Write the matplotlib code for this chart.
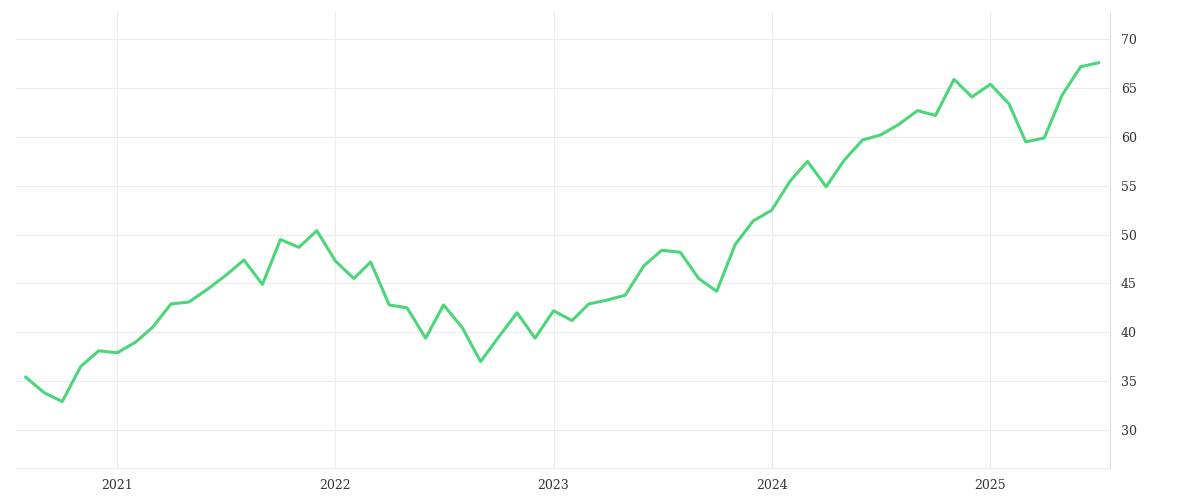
import numpy as np
import pandas as pd
import matplotlib
matplotlib.use("Agg")
import matplotlib.pyplot as plt

dates = pd.date_range("2020-08-01", periods=60, freq="MS")
values = [35.4, 33.8, 32.9, 36.5, 38.1,
          37.9, 39.0, 40.5, 42.9, 43.1, 44.4, 45.8, 47.4, 44.9, 49.5, 48.7, 50.4,
          47.3, 45.5, 47.2, 42.8, 42.5, 39.4, 42.8, 40.5, 37.0, 39.5, 42.0, 39.4,
          42.2, 41.2, 42.9, 43.3, 43.8, 46.8, 48.4, 48.2, 45.5, 44.2, 49.0, 51.4,
          52.5, 55.5, 57.5, 54.9, 57.6, 59.7, 60.2, 61.3, 62.7, 62.2, 65.9, 64.1,
          65.4, 63.4, 59.5, 59.9, 64.3, 67.2, 67.6]
year_ticks = pd.to_datetime(["2021-01-01", "2022-01-01", "2023-01-01", "2024-01-01", "2025-01-01"])
year_labels = ["2021", "2022", "2023", "2024", "2025"]
y_ticks = [30, 35, 40, 45, 50, 55, 60, 65, 70]

fig = plt.figure(figsize=(12, 5), dpi=100)
ax = fig.add_axes([0.013, 0.064, 0.912, 0.912])
ax.plot(dates, values, color="#4cd67a", linewidth=2.2)

ax.set_ylim(26.1, 72.8)
ax.set_xlim(pd.Timestamp("2020-07-15"), pd.Timestamp("2025-07-20"))
ax.set_yticks(y_ticks)
ax.set_xticks(year_ticks)
ax.set_xticklabels(year_labels)
ax.yaxis.tick_right()
ax.grid(True, color="#ececec", linewidth=0.8)
for s in ["top", "left"]:
    ax.spines[s].set_visible(False)
ax.spines["right"].set_color("#dddddd")
ax.spines["bottom"].set_color("#ececec")
ax.tick_params(length=0, labelsize=9, colors="#333333", pad=8)
for lab in ax.get_xticklabels() + ax.get_yticklabels():
    lab.set_fontfamily("DejaVu Serif")

fig.savefig("out.png")
